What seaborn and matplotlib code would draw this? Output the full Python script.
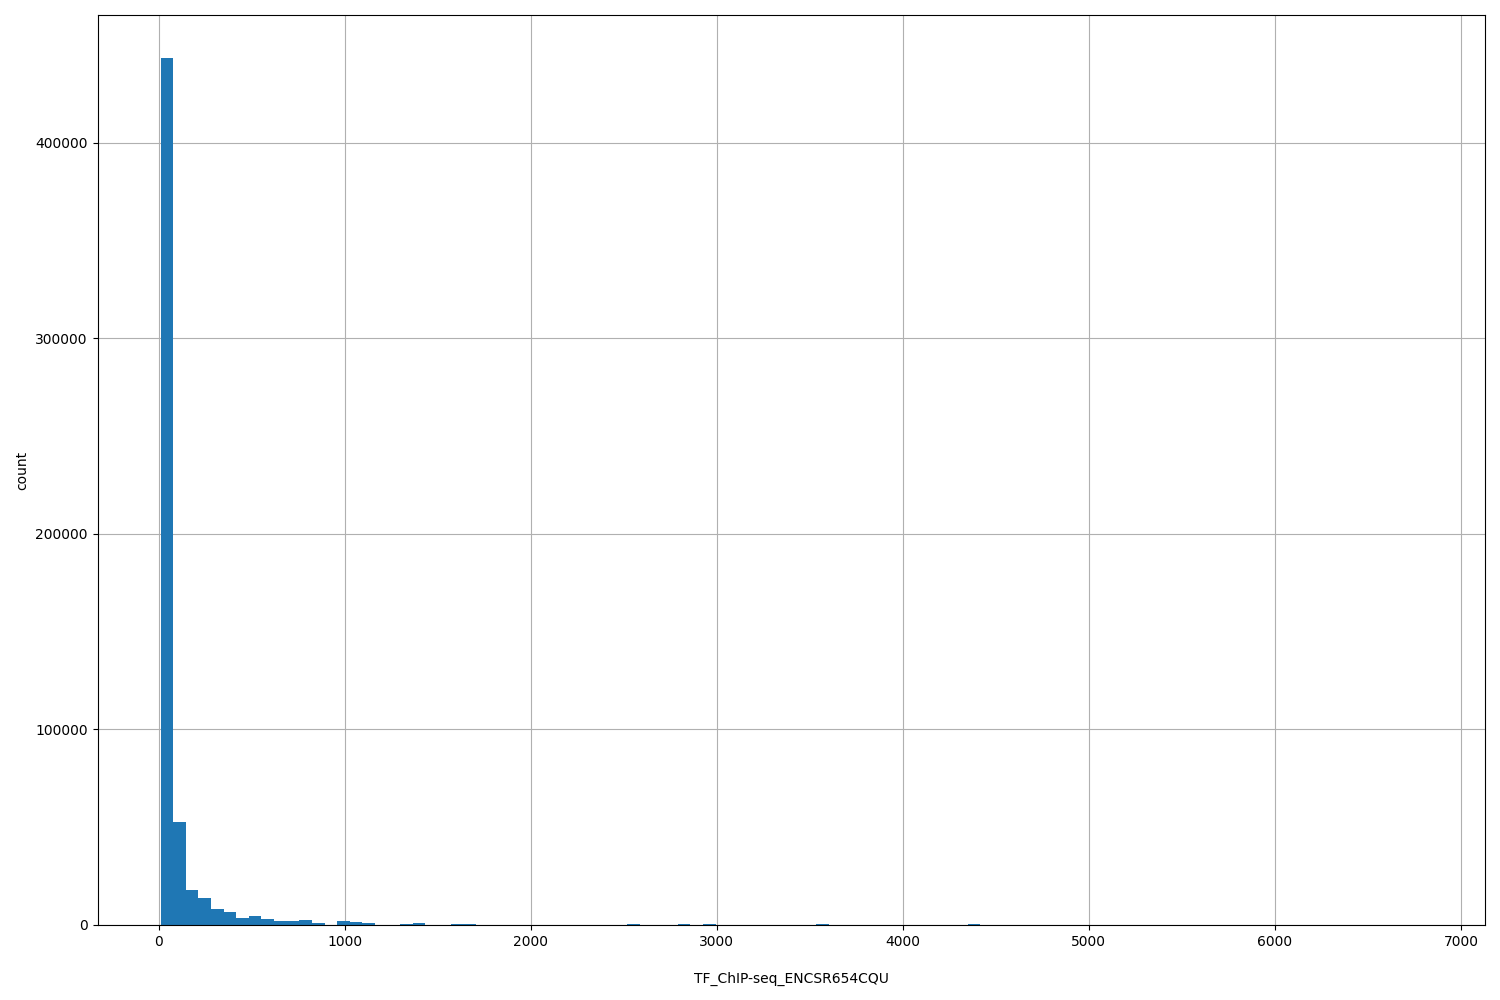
import numpy as np
import pandas as pd
import matplotlib.pyplot as plt
import seaborn as sns

# Histogram: 100 equal bins between the data min and max
x_min = 11
x_max = 6790
n_bins = 100

# counts per bin (1-indexed bin -> count), all other bins ~0
nonzero_bins = [1, 2, 3, 4, 5, 6, 7, 8, 9, 10, 11, 12, 13, 14, 15, 16, 17, 18, 19, 20,
                21, 24, 25, 38, 42, 44, 53, 65, 100]
nonzero_counts = [443300, 52800, 17900, 13800, 8200, 6700, 3600, 4600, 3100, 2000,
                  2000, 2600, 1000, 150, 2000, 1500, 1000, 100, 100, 500,
                  1000, 500, 500, 500, 500, 500, 500, 500, 20]

edges = np.linspace(x_min, x_max, n_bins + 1)
centers = (edges[:-1] + edges[1:]) / 2
counts = np.zeros(n_bins)
for b, c in zip(nonzero_bins, nonzero_counts):
    counts[b - 1] = c

df = pd.DataFrame({"value": centers, "count": counts})

fig, ax = plt.subplots(figsize=(15, 10), dpi=100)
sns.histplot(data=df, x="value", weights="count", bins=n_bins, binrange=(x_min, x_max),
             ax=ax, color="#1f77b4", alpha=1, linewidth=0, edgecolor="none")
ax.grid(True)
ax.set_axisbelow(True)
ax.set_xlabel("TF_ChIP-seq_ENCSR654CQU", labelpad=17)
ax.set_ylabel("count")
ax.set_xlim(x_min - 0.05 * (x_max - x_min), x_max + 0.05 * (x_max - x_min))
fig.subplots_adjust(left=0.065, right=0.99, top=0.985, bottom=0.075)
plt.savefig("out.png")
plt.close()
